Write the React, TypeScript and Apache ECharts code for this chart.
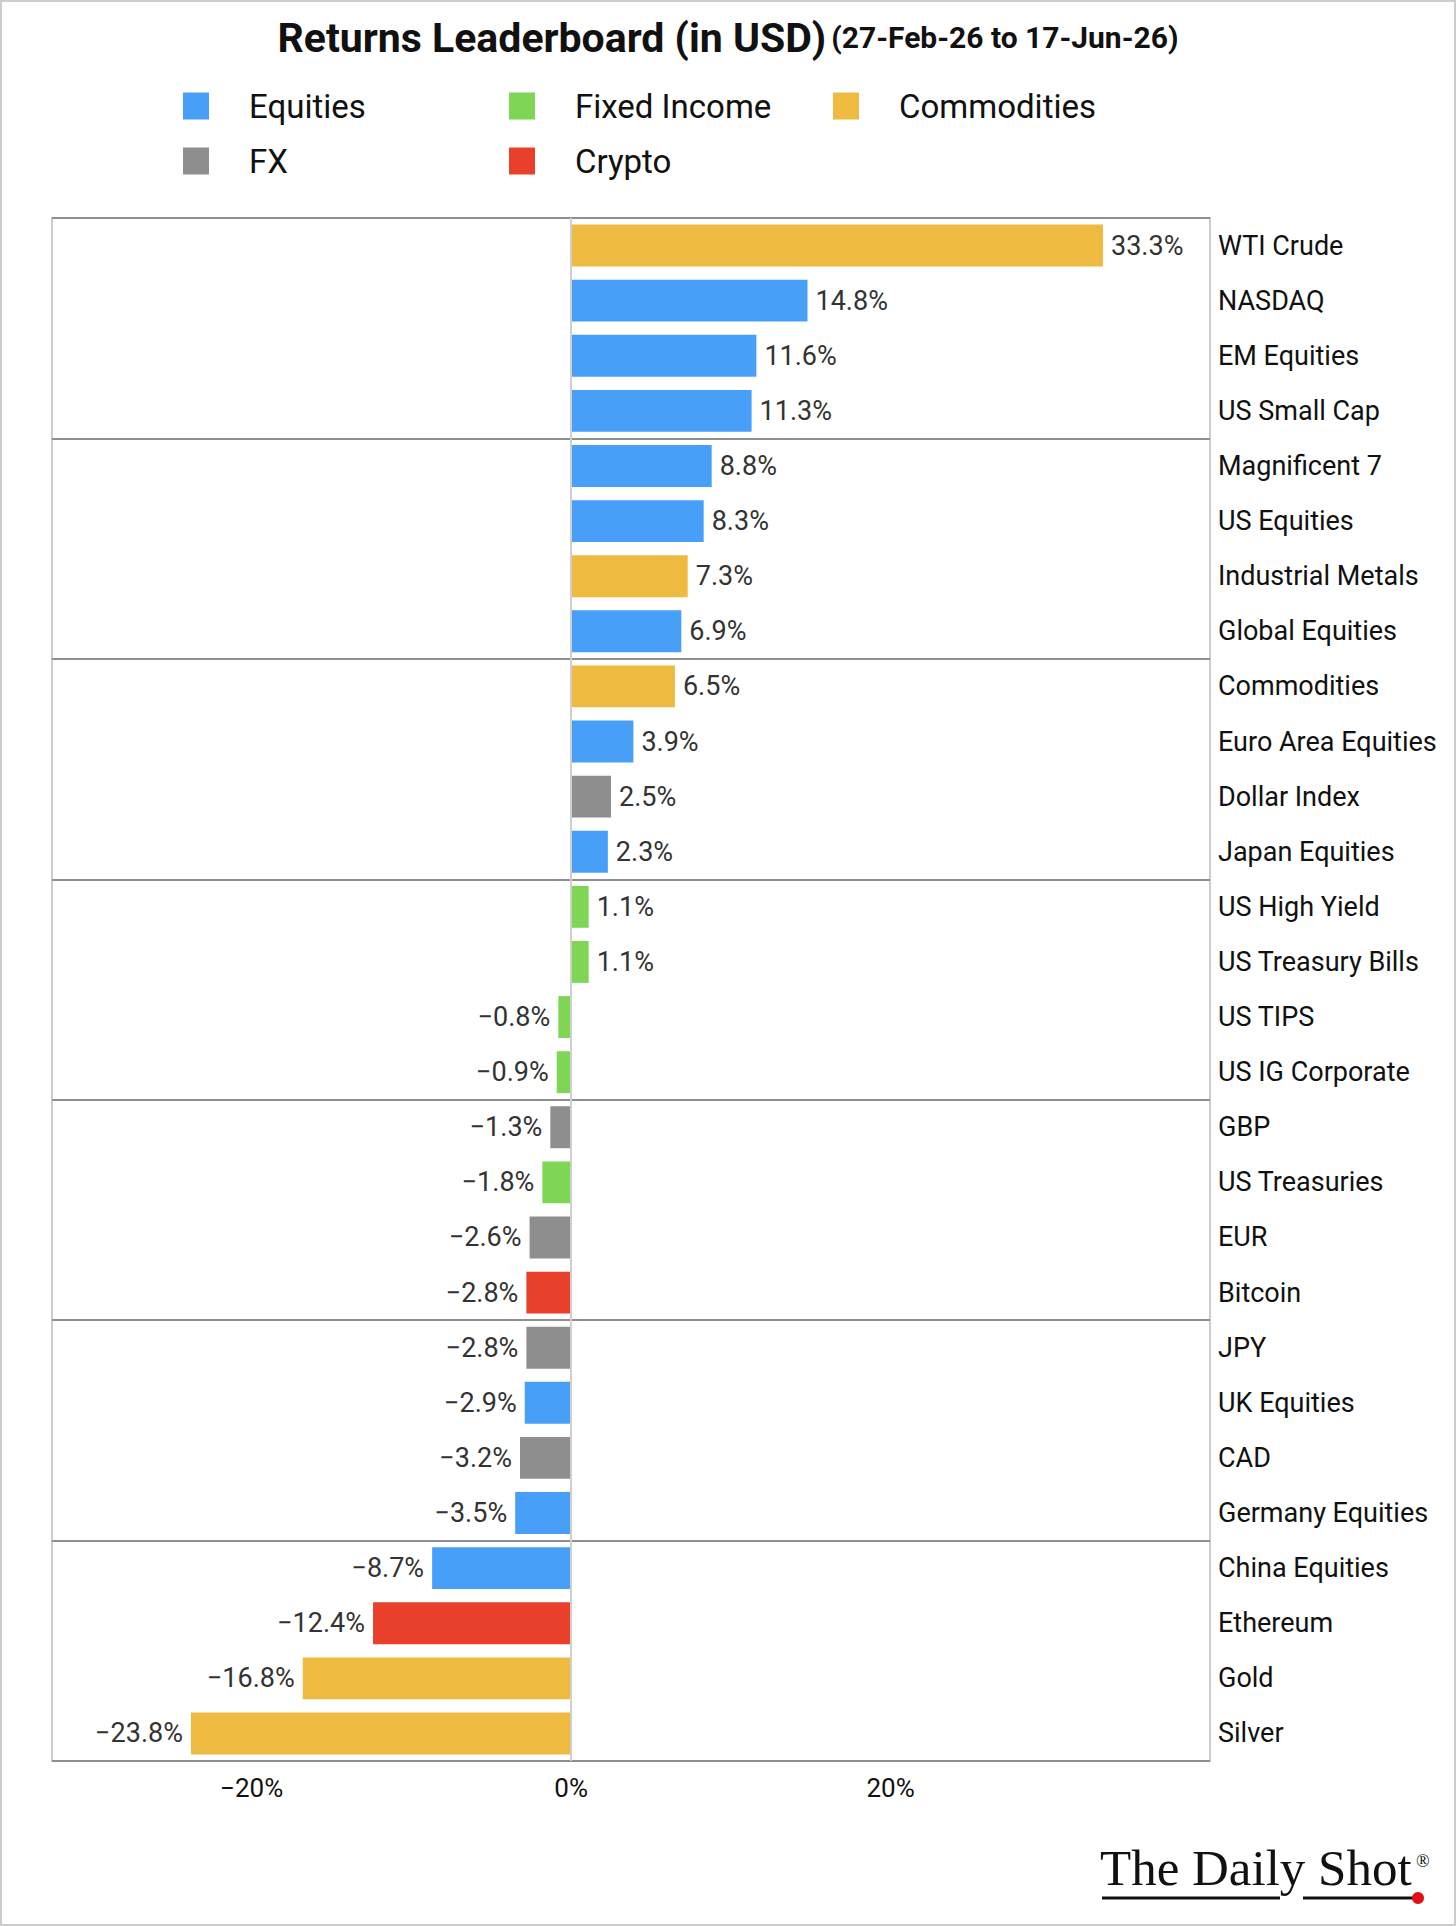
import React, { useEffect, useRef } from "react";
import * as echarts from "echarts";

const categories = [
  "WTI Crude", "NASDAQ", "EM Equities", "US Small Cap",
  "Magnificent 7", "US Equities", "Industrial Metals", "Global Equities",
  "Commodities", "Euro Area Equities", "Dollar Index", "Japan Equities",
  "US High Yield", "US Treasury Bills", "US TIPS", "US IG Corporate",
  "GBP", "US Treasuries", "EUR", "Bitcoin",
  "JPY", "UK Equities", "CAD", "Germany Equities",
  "China Equities", "Ethereum", "Gold", "Silver",
];
const returns = [
  33.3, 14.8, 11.6, 11.3,
  8.8, 8.3, 7.3, 6.9,
  6.5, 3.9, 2.5, 2.3,
  1.1, 1.1, -0.8, -0.9,
  -1.3, -1.8, -2.6, -2.8,
  -2.8, -2.9, -3.2, -3.5,
  -8.7, -12.4, -16.8, -23.8,
];
const assetClass = [
  "Commodities", "Equities", "Equities", "Equities",
  "Equities", "Equities", "Commodities", "Equities",
  "Commodities", "Equities", "FX", "Equities",
  "Fixed Income", "Fixed Income", "Fixed Income", "Fixed Income",
  "FX", "Fixed Income", "FX", "Crypto",
  "FX", "Equities", "FX", "Equities",
  "Equities", "Crypto", "Commodities", "Commodities",
];
const classNames = ["Equities", "Fixed Income", "Commodities", "FX", "Crypto"];
const classColors = ["#479ff8", "#7fd655", "#eebb40", "#8e8e8e", "#e8402a"];
const xTicks = [-20, 0, 20];
const groupSize = 4;

const FONT = "Roboto";

function fmtPct(v: number, digits: number) {
  const s = Math.abs(v).toFixed(digits) + "%";
  return v < 0 ? "\u2212" + s : s;
}

export default function App() {
  const ref = useRef<HTMLDivElement>(null);
  useEffect(() => {
    document.body.style.margin = "0";
    if (!ref.current) return;
    const chart = echarts.init(ref.current, null, { renderer: "svg" });

    const series: any[] = classNames.map((name, ci) => ({
      name,
      type: "bar",
      stack: "all",
      yAxisIndex: 0,
      barCategoryGap: "24%",
      itemStyle: { color: classColors[ci] },
      label: {
        show: true,
        fontFamily: FONT,
        fontSize: 27,
        color: "#333",
        distance: 8,
        formatter: (p: any) => fmtPct(Number(p.value), 1),
      },
      data: returns.map((v, i) =>
        assetClass[i] === name
          ? { value: v, label: { position: v < 0 ? "left" : "right" } }
          : "-"
      ),
    }));
    series[0].markLine = {
      silent: true,
      symbol: "none",
      label: { show: false },
      lineStyle: { color: "#cfcfcf", width: 2, type: "solid" },
      data: [{ xAxis: 0 }],
    };

    const legendBase = {
      orient: "vertical",
      icon: "rect",
      itemWidth: 26,
      itemHeight: 27,
      itemGap: 21,
      padding: 0,
      selectedMode: false,
      textStyle: {
        fontFamily: FONT,
        fontSize: 33,
        color: "#111",
        lineHeight: 34,
        padding: [0, 0, 0, 35],
      },
    };

    chart.setOption({
      animation: false,
      backgroundColor: "#fff",
      title: {
        text: "{a|Returns Leaderboard (in USD)} {b|(27-Feb-26 to 17-Jun-26)}",
        left: "center",
        top: 12,
        textStyle: {
          rich: {
            a: { fontFamily: FONT, fontWeight: "bold", fontSize: 41, color: "#111" },
            b: { fontFamily: FONT, fontWeight: "bold", fontSize: 30, color: "#111" },
          },
        },
      },
      legend: [
        { ...legendBase, left: 183, top: 89, data: ["Equities", "FX"] },
        { ...legendBase, left: 509, top: 89, data: ["Fixed Income", "Crypto"] },
        { ...legendBase, left: 833, top: 89, data: ["Commodities"] },
      ],
      grid: {
        left: 52,
        right: 246,
        top: 218,
        bottom: 165,
        show: true,
        borderColor: "#cccccc",
        borderWidth: 2,
        containLabel: false,
      },
      xAxis: {
        type: "value",
        min: -32.5,
        max: 40,
        axisLine: { show: false },
        axisTick: { show: false },
        splitLine: { show: false },
        axisLabel: {
          customValues: xTicks,
          fontFamily: FONT,
          fontSize: 26,
          color: "#111",
          margin: 14,
          formatter: (v: number) => fmtPct(v, 0),
        },
      },
      yAxis: [
        {
          type: "category",
          data: categories,
          inverse: true,
          position: "right",
          axisLine: { show: false, onZero: false },
          axisTick: { show: false },
          axisLabel: {
            interval: 0,
            fontFamily: FONT,
            fontSize: 27,
            color: "#111",
            margin: 8,
          },
          splitLine: { show: false },
        },
        {
          type: "value",
          min: 0,
          max: categories.length,
          interval: groupSize,
          inverse: true,
          position: "left",
          axisLine: { show: false, onZero: false },
          axisTick: { show: false },
          axisLabel: { show: false },
          splitLine: { show: true, lineStyle: { color: "#8f8f8f", width: 2 } },
        },
      ],
      series,
      graphic: [
        {
          type: "rect",
          shape: { x: 1, y: 1, width: 1454, height: 1924 },
          style: { fill: "none", stroke: "#cccccc", lineWidth: 2 },
          silent: true,
        },
        {
          type: "text",
          x: 1100,
          y: 1893,
          style: {
            text: "The Daily Shot",
            fontFamily: "Liberation Serif",
            fontSize: 51,
            fill: "#111",
            textVerticalAlign: "bottom",
          },
        },
        {
          type: "text",
          x: 1416,
          y: 1852,
          style: {
            text: "\u00AE",
            fontFamily: "Liberation Serif",
            fontSize: 18,
            fill: "#111",
          },
        },
        {
          type: "line",
          shape: { x1: 1102, y1: 1898, x2: 1280, y2: 1898 },
          style: { stroke: "#111", lineWidth: 3 },
        },
        {
          type: "line",
          shape: { x1: 1303, y1: 1898, x2: 1416, y2: 1898 },
          style: { stroke: "#111", lineWidth: 3 },
        },
        {
          type: "circle",
          shape: { cx: 1418, cy: 1898, r: 6 },
          style: { fill: "#e0101a" },
        },
      ],
    });
    return () => chart.dispose();
  }, []);
  return <div ref={ref} style={{ width: 1456, height: 1926 }} />;
}
